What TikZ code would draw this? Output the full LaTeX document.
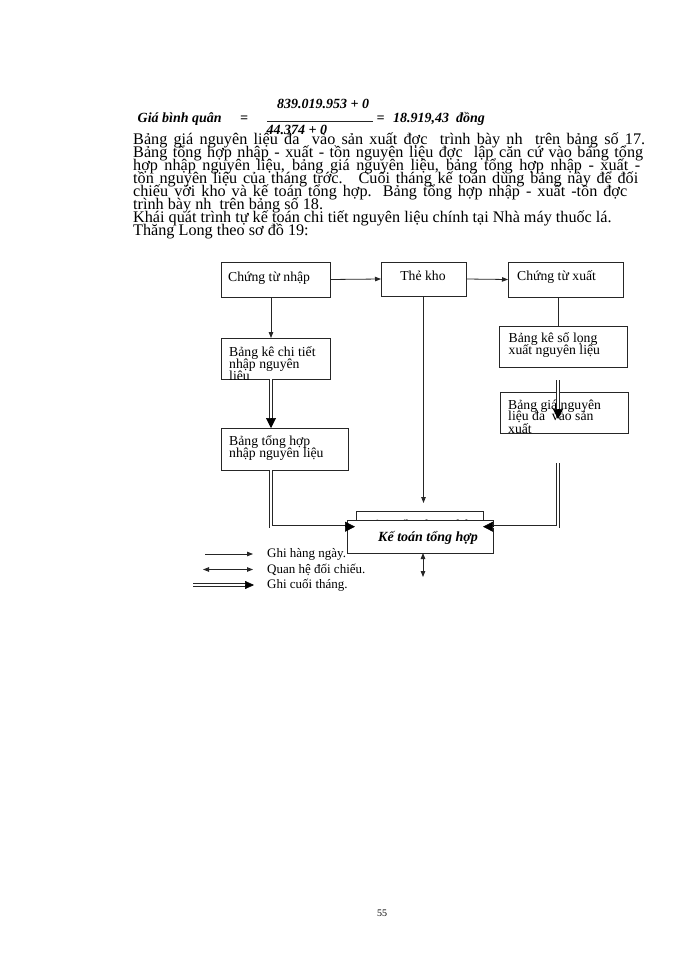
\documentclass[tikz,border=0pt]{standalone}
\usepackage{fontspec}
\setmainfont{Liberation Serif}
\usetikzlibrary{arrows.meta,calc}
\tikzset{
  box/.style={draw=black!85, line width=0.8pt, fill=white, outer sep=0pt, inner sep=0pt, anchor=north west},
  body/.style={anchor=base west, inner sep=0pt, font=\fontsize{16.2}{12.6}\selectfont},
  boxtxt/.style={anchor=base west, inner sep=0pt, font=\fontsize{13.7}{12}\selectfont},
  legtxt/.style={anchor=base west, inner sep=0pt, font=\fontsize{13}{12}\selectfont},
  formula/.style={anchor=base west, inner sep=0pt, font=\fontsize{14}{14}\selectfont\bfseries\itshape},
  arr/.style={draw=black!85, line width=0.8pt, -{Triangle[length=6pt,width=4.5pt]}},
  arrboth/.style={draw=black!85, line width=0.8pt, {Triangle[length=6pt,width=4.5pt]}-{Triangle[length=6pt,width=4.5pt]}},
  conn/.style={draw=black!85, line width=0.8pt},
  dbl/.style={draw=black!85, line width=0.9pt, double=white, double distance=1.6pt},
  bigtip/.style={draw=black, line width=0.6pt, -{Triangle[length=10pt,width=10pt]}},
  legtip/.style={draw=black, line width=0.6pt, -{Triangle[length=9pt,width=8pt]}},
}
\begin{document}
\begin{tikzpicture}[x=1pt,y=-1pt]
\fill[white] (0,0) rectangle (700,960);
\useasboundingbox (0,0) rectangle (700,960);

% formula
\node[formula] (gbq) at (137.5,123) {Giá bình quân};
\node[formula] (eq1) at (240,123) {=};
\node[formula] (num) at (277,109) {839.019.953 + 0};
\node[formula] (den) at (266.5,134.3) {44.374 + 0};
\draw[conn] (267,121.3) -- (372.5,121.3);
\node[formula] (eq2) at (376.5,123) {=};
\node[formula] (res) at (393,123) {18.919,43 ~đồng};

% body text
\node[body] (t1) at (133,145) {\makebox[512pt][s]{Bảng giá nguyên liệu đa ~vào sản xuất đợc ~trình bày nh ~trên bảng số 17.}};
\node[body] (t2) at (133,157.9) {\makebox[510pt][s]{Bảng tổng hợp nhập - xuất - tồn nguyên liệu đợc ~lập căn cứ vào bảng tổng}};
\node[body] (t3) at (133,170.8) {\makebox[507pt][s]{hợp nhập nguyên liệu, bảng giá nguyên liệu, bảng tổng hợp nhập - xuất -}};
\node[body] (t4) at (133,183.7) {\makebox[505pt][s]{tồn nguyên liệu của tháng trớc. ~Cuối tháng kế toán dùng bảng này để đối}};
\node[body] (t5) at (133,196.6) {\makebox[494pt][s]{chiếu với kho và kế toán tổng hợp. Bảng tổng hợp nhập - xuất -tồn đợc}};
\node[body] (t6) at (133,209.5) {trình bày nh ~trên bảng số 18.};
\node[body] (t7) at (133,222.4) {Khái quát trình tự kế toán chi tiết nguyên liệu chính tại Nhà máy thuốc lá.};
\node[body] (t8) at (133,235.3) {Thăng Long theo sơ đồ 19:};

% boxes
\node[box, minimum width=109pt, minimum height=35pt] (ctn) at (221,262) {};
\node[boxtxt] (ctnt) at (228,281) {Chứng từ nhập};
\node[box, minimum width=85pt, minimum height=34pt] (tk) at (381,262) {};
\node[boxtxt, anchor=base] (tkt) at (423,280) {Thẻ kho};
\node[box, minimum width=115pt, minimum height=35pt] (ctx) at (508,262) {};
\node[boxtxt] (ctxt) at (517,280.5) {Chứng từ xuất};

\node[box, minimum width=128pt, minimum height=41pt] (bks) at (499,326) {};
\node[boxtxt] (bks1) at (508.5,342) {Bảng kê số lọng};
\node[boxtxt] (bks2) at (508.5,354.5) {xuất nguyên liệu};

\node[box, minimum width=109pt, minimum height=41pt] (bkc) at (221,338) {};
\begin{scope}
\clip (bkc.north west) rectangle (bkc.south east);
\node[boxtxt] (bkc1) at (229,356) {Bảng kê chi tiết};
\node[boxtxt] (bkc2) at (229,368) {nhập nguyên};
\node[boxtxt] (bkc3) at (229,380.5) {liệu};
\end{scope}

\node[box, minimum width=128pt, minimum height=41pt] (bgn) at (500,392) {};
\begin{scope}
\clip (bgn.north west) rectangle (bgn.south east);
\node[boxtxt] (bgn1) at (508,409) {Bảng giá nguyên};
\node[boxtxt] (bgn2) at (508,420.5) {liệu đa ~vào sản};
\node[boxtxt] (bgn3) at (508,433.5) {xuất};
\end{scope}

\node[box, minimum width=127pt, minimum height=42pt] (bth) at (221,428) {};
\node[boxtxt] (bth1) at (229,445) {Bảng tổng hợp};
\node[boxtxt] (bth2) at (229,457) {nhập nguyên liệu};

\node[box, minimum width=127pt, minimum height=20pt] (hid) at (356,511) {};
\begin{scope}
\clip (hid.north west) rectangle (hid.south east);
\node[boxtxt] (hidt) at (365,529) {Bảng tổng hợp nhập};
\end{scope}

\node[box, minimum width=146pt, minimum height=33pt] (kt) at (347,520) {};
\node[formula] (ktt) at (378,541) {Kế toán tổng hợp};

% connectors
\draw[arr] (ctn.east) -- (tk.west);
\draw[arr] (tk.east) -- (ctx.west);
\draw[arr] ([xshift=50pt]ctn.south west) -- ([xshift=50pt]bkc.north west);
\draw[conn] ([xshift=50pt]ctx.south west) -- ([xshift=50pt]ctx.south west |- bks.north);
\draw[arr, shorten >=8pt] (tk.south) -- (tk.south |- hid.north);

\draw[dbl, shorten >=9pt] ([xshift=50pt]bkc.south west) -- ([xshift=50pt]bth.north west);
\draw[bigtip] ([xshift=50pt,yshift=10pt]bth.north west) -- ([xshift=50pt]bth.north west);

\coordinate (bgTip) at ([xshift=58pt,yshift=-27pt]bgn.north west);
\draw[dbl, shorten >=9pt] ([xshift=59pt,yshift=-13pt]bks.south west) -- (bgTip);
\draw[bigtip] ([yshift=10pt]bgTip) -- (bgTip);

\coordinate (ktL) at ([xshift=8pt,yshift=-6.7pt]kt.north west);
\draw[dbl, shorten >=9pt] ([xshift=50pt]bth.south west) |- (ktL);
\draw[bigtip] ([xshift=-10pt]ktL) -- (ktL);

\coordinate (ktR) at ([xshift=-10pt,yshift=-6.7pt]kt.north east);
\draw[dbl, shorten >=9pt] ([xshift=58pt,yshift=-30pt]bgn.south west) |- (ktR);
\draw[bigtip] ([xshift=10pt]ktR) -- (ktR);

\coordinate (ktB) at ([xshift=3pt,yshift=-24pt]kt.south);
\draw[arrboth] ([xshift=3pt]kt.south) -- (ktB);

% legend
\node[legtxt] (lg1) at (267,557.5) {Ghi hàng ngày.};
\node[legtxt] (lg2) at (267,573) {Quan hệ đối chiếu.};
\node[legtxt] (lg3) at (267,588.5) {Ghi cuối tháng.};
\coordinate (la1) at (205,554);
\coordinate (lb1) at (253,554);
\coordinate (la2) at (203,569.5);
\coordinate (lb2) at (253,569.5);
\coordinate (la3) at (193,585);
\coordinate (lb3) at (254,585);
\draw[arr] (la1) -- (lb1);
\draw[arrboth] (la2) -- (lb2);
\draw[dbl, shorten >=8pt] (la3) -- (lb3);
\draw[legtip] ([xshift=-9pt]lb3) -- (lb3);

% page number
\node[inner sep=0pt, font=\fontsize{10}{10}\selectfont] (pg) at (382,913.5) {55};
\end{tikzpicture}
\end{document}
